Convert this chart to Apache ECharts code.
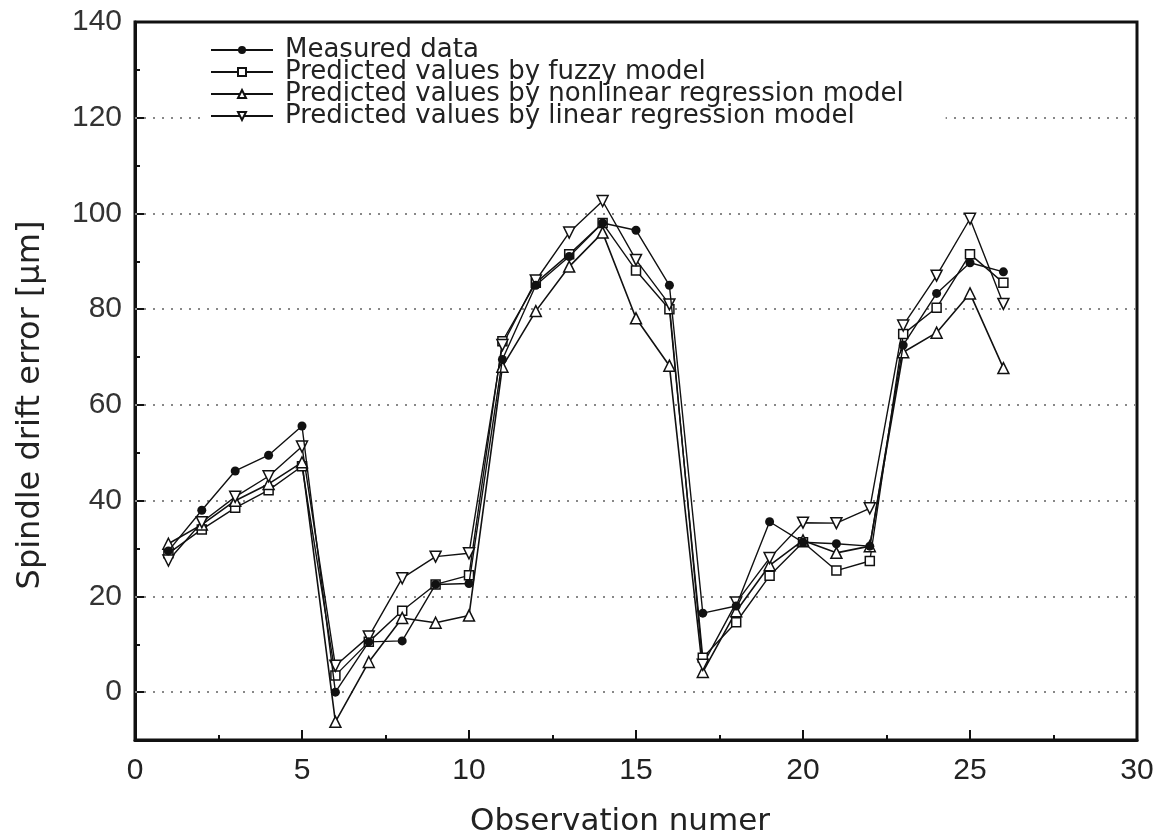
<!DOCTYPE html>
<html>
<head>
<meta charset="utf-8">
<script src="https://cdn.jsdelivr.net/npm/echarts@6/dist/echarts.min.js"></script>
<style>html,body{margin:0;padding:0;background:#fff}#c{width:1163px;height:838px}</style>
</head>
<body>
<div id="c"></div>
<script>
// ---- data ----
const observations = [1,2,3,4,5,6,7,8,9,10,11,12,13,14,15,16,17,18,19,20,21,22,23,24,25,26];
const measured  = [29.5,38,46.2,49.5,55.6,0,10.5,10.7,22.5,22.7,69.5,85,91,98,96.5,85,16.5,18,35.6,31.3,31,30.5,72.5,83.3,89.7,87.8];
const fuzzy     = [29,34,38.5,42.2,47.2,3.5,10.5,17,22.5,24.4,73.3,85.5,91.5,98,88.1,80,7.2,14.6,24.3,31.3,25.4,27.4,74.8,80.3,91.5,85.5];
const nonlinear = [31,35,40,43.5,48,-6.2,6.3,15.5,14.5,16,68,79.6,88.9,96,78.1,68.2,4.2,16.9,26.5,31.7,29.1,30.5,71,75.1,83.3,67.7];
const linear    = [27.5,35.5,40.8,45.1,51.3,5.5,11.6,23.8,28.3,29,72.5,86,96,102.6,90.3,81,5.7,18.7,28,35.4,35.3,38.4,76.6,87,98.9,81.1];
const seriesNames = [
  'Measured data',
  'Predicted values by fuzzy model',
  'Predicted values by nonlinear regression model',
  'Predicted values by linear regression model'
];
const gridValues = [0,20,40,60,80,100,120];
const yMajorTicks = [0,20,40,60,80,100,120,140];

const pair = arr => observations.map((x,i)=>[x,arr[i]]);
const black = '#111';
const emptyStyle = {color:'#fff', borderColor:black, borderWidth:1.5};

const chart = echarts.init(document.getElementById('c'));
chart.setOption({
  animation:false,
  backgroundColor:'#fff',
  grid:{left:135,right:26,top:22,bottom:98,outerBoundsMode:'none',containLabel:false,
        show:true,borderColor:black,borderWidth:3,backgroundColor:'transparent'},
  legend:{
    data:seriesNames,
    orient:'vertical',
    left:200, top:35,
    z:20,
    itemWidth:62, itemHeight:10, itemGap:-4,
    padding:[2,42,6,10],
    backgroundColor:'#fff',
    textStyle:{fontFamily:'DejaVu Sans',fontSize:26,lineHeight:22,color:'#222',padding:[0,0,0,7]}
  },
  xAxis:{
    type:'value',min:0,max:30,interval:5,
    axisLine:{show:true,onZero:false,lineStyle:{color:black,width:3}},
    axisTick:{show:true,inside:true,length:10,lineStyle:{color:black,width:2}},
    minorTick:{show:true,splitNumber:2,length:5,lineStyle:{color:black,width:2}},
    axisLabel:{fontFamily:'Liberation Sans',fontSize:30,color:'#222',margin:16},
    splitLine:{show:false},
    name:'Observation numer',nameLocation:'middle',nameGap:66,
    nameTextStyle:{fontFamily:'DejaVu Sans',fontSize:31,color:'#222',padding:[0,32,0,0]}
  },
  yAxis:[{
    type:'value',min:-10,max:140,interval:10,
    axisLine:{show:true,onZero:false,lineStyle:{color:black,width:3}},
    axisTick:{show:true,inside:true,length:5,lineStyle:{color:black,width:2}},
    axisLabel:{fontFamily:'Liberation Sans',fontSize:30,color:'#333',margin:13,
      formatter:v=> (v>=0 && v%20===0) ? String(v) : ''},
    splitLine:{show:false},
    name:'Spindle drift error [μm]',nameLocation:'middle',nameGap:88,nameRotate:90,
    nameTextStyle:{fontFamily:'DejaVu Sans',fontSize:32,color:'#222',padding:[0,48,0,0]}
  },{
    type:'value',min:-10,max:140,interval:10,position:'left',
    axisLine:{show:false},
    axisTick:{show:true,inside:true,length:10,customValues:yMajorTicks,lineStyle:{color:black,width:2}},
    axisLabel:{show:false},
    splitLine:{show:false}
  }],
  series:[
    {name:'grid',type:'line',data:[],z:1,silent:true,
     markLine:{silent:true,symbol:'none',label:{show:false},animation:false,z:1,
       lineStyle:{type:[2,7],color:'#888',width:2},
       data:gridValues.map(v=>({yAxis:v}))}},
    {name:seriesNames[1],type:'line',data:pair(fuzzy),symbol:'rect',symbolSize:9,
     itemStyle:emptyStyle,lineStyle:{color:black,width:1.4},z:3},
    {name:seriesNames[2],type:'line',data:pair(nonlinear),symbol:'triangle',symbolSize:11,
     itemStyle:emptyStyle,lineStyle:{color:black,width:1.6},z:3},
    {name:seriesNames[3],type:'line',data:pair(linear),symbol:'triangle',symbolRotate:180,symbolSize:11,
     itemStyle:emptyStyle,lineStyle:{color:black,width:1.4},z:3},
    {name:seriesNames[0],type:'line',data:pair(measured),symbol:'circle',symbolSize:9,
     itemStyle:{color:black},lineStyle:{color:black,width:1.4},z:4}
  ]
});
</script>
</body>
</html>
